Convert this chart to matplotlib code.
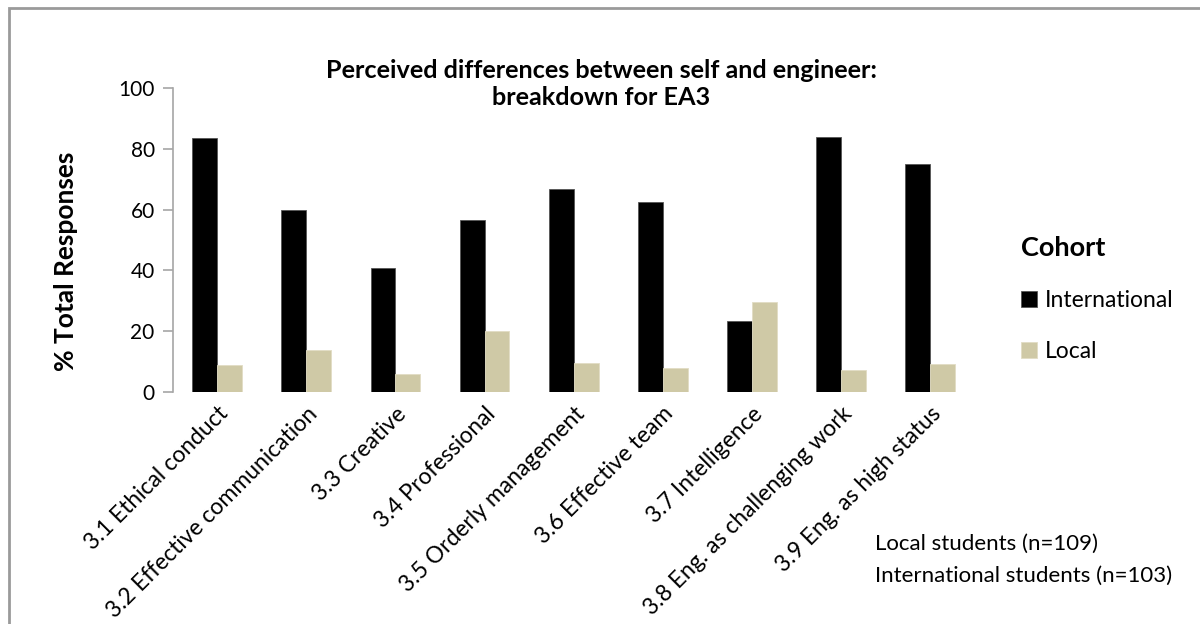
import numpy as np
import matplotlib.pyplot as plt
from matplotlib.patches import Rectangle

# values
categories = ["3.1 Ethical conduct", "3.2 Effective communication", "3.3 Creative",
              "3.4 Professional", "3.5 Orderly management", "3.6 Effective team",
              "3.7 Intelligence", "3.8 Eng. as challenging work", "3.9 Eng. as high status"]
international = [83.4, 60.0, 40.6, 56.6, 66.8, 62.6, 23.2, 84.0, 75.0]
local = [8.9, 13.7, 5.9, 20.1, 9.5, 7.9, 29.7, 7.2, 9.2]
yticks = [0, 20, 40, 60, 80, 100]

plt.rcParams['font.family'] = ['Lato', 'DejaVu Sans']

fig = plt.figure(figsize=(12, 6.24), dpi=100)
ax = fig.add_axes([0.144, 0.372, 0.668, 0.487])

x = np.arange(len(categories))
w = 0.28
ax.bar(x - w / 2, international, w, color='black', edgecolor='#555555', linewidth=0.6, label='International')
ax.bar(x + w / 2, local, w, color='#CFC9A6', edgecolor='#E2DDC4', linewidth=0.6, label='Local')

ax.set_xlim(-0.5, len(categories) - 0.5)
ax.set_ylim(0, 100)
ax.set_yticks(yticks)
ax.tick_params(axis='y', labelsize=15, length=7, color='#a6a6a6', width=1.2, pad=6)
ax.set_xticks(x)
ax.set_xticklabels(categories, rotation=45, ha='right', rotation_mode='anchor', fontsize=16.5)
ax.tick_params(axis='x', length=0, pad=8)

for s in ['top', 'right', 'bottom']:
    ax.spines[s].set_visible(False)
ax.spines['left'].set_color('#a6a6a6')
ax.spines['left'].set_linewidth(1.2)

ax.set_ylabel('% Total Responses', fontsize=19, fontweight='bold')
ax.yaxis.set_label_coords(-0.118, 0.43)

fig.text(0.501, 0.866, 'Perceived differences between self and engineer:\nbreakdown for EA3',
         ha='center', va='center', fontsize=18.2, fontweight='bold', linespacing=1.2)

leg = ax.legend(loc='upper left', bbox_to_anchor=(1.032, 0.58), frameon=False, fontsize=16.5,
                title='Cohort', handlelength=0.7, handleheight=0.7, handletextpad=0.35,
                labelspacing=1.3, alignment='left')
leg.get_title().set_fontsize(19.5)
leg.get_title().set_fontweight('bold')

fig.text(0.729, 0.128, 'Local students (n=109)', fontsize=16, ha='left', va='center')
fig.text(0.729, 0.077, 'International students (n=103)', fontsize=16, ha='left', va='center')

# light grey frame around the chart area
fig.patches.append(Rectangle((9 / 1200, -0.1), 1.2, 0.1 + (624 - 8) / 624,
                             transform=fig.transFigure, fill=False,
                             edgecolor='#9a9a9a', linewidth=2))

fig.savefig('out.png', dpi=100)
